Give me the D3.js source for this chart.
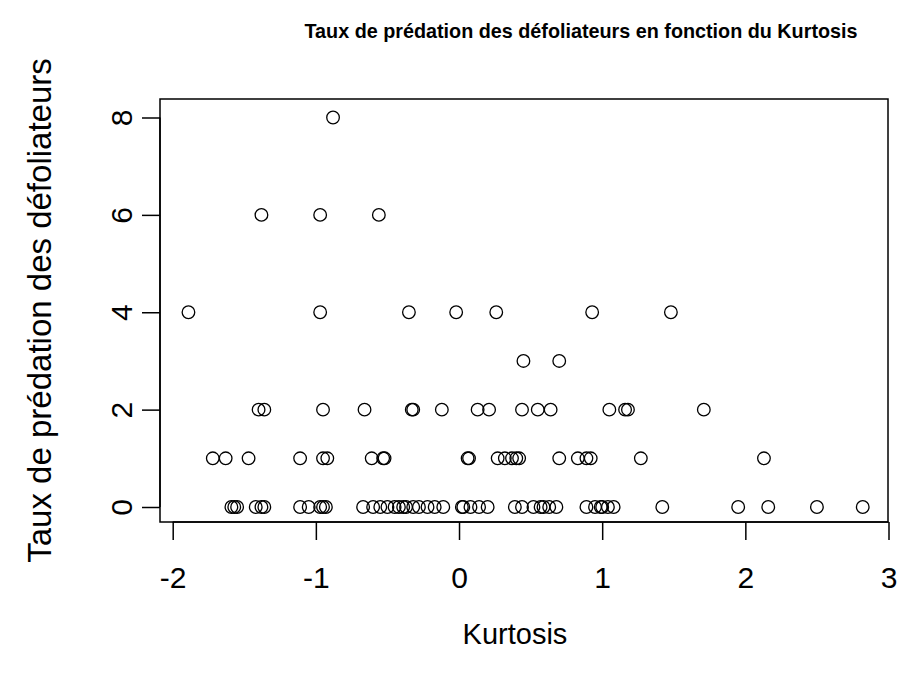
<!DOCTYPE html>
<html>
<head>
<meta charset="utf-8">
<script src="https://cdn.jsdelivr.net/npm/d3@7"></script>
<style>
  html, body { margin: 0; padding: 0; background: #fff; }
  svg { display: block; }
  text { font-family: "Liberation Sans", Arial, sans-serif; fill: #000; }
</style>
</head>
<body>
<svg id="chart" width="898" height="675"></svg>
<script>
// Kurtosis values observed at each predation rate level
const kurtRate0 = [-1.59, -1.57, -1.55, -1.42, -1.38, -1.36, -1.11, -1.05, -0.97, -0.95, -0.93,
  -0.67, -0.60, -0.55, -0.50, -0.45, -0.42, -0.39, -0.37, -0.32, -0.28, -0.22, -0.17, -0.11,
  0.02, 0.03, 0.08, 0.14, 0.20, 0.39, 0.44, 0.52, 0.57, 0.59, 0.63, 0.68, 0.89, 0.95, 0.99,
  1.00, 1.04, 1.08, 1.42, 1.95, 2.16, 2.50, 2.82];
const kurtRate1 = [-1.72, -1.63, -1.47, -1.11, -0.95, -0.92, -0.61, -0.53, -0.52, 0.06, 0.07,
  0.27, 0.32, 0.37, 0.40, 0.42, 0.70, 0.83, 0.89, 0.92, 1.27, 2.13];
const kurtRate2 = [-1.40, -1.36, -0.95, -0.66, -0.33, -0.32, -0.12, 0.13, 0.21, 0.44, 0.55,
  0.64, 1.05, 1.16, 1.18, 1.71];
const kurtRate3 = [0.45, 0.70];
const kurtRate4 = [-1.89, -0.97, -0.35, -0.02, 0.26, 0.93, 1.48];
const kurtRate6 = [-1.38, -0.97, -0.56];
const kurtRate8 = [-0.88];
const rateLevels = [0, 1, 2, 3, 4, 6, 8];
const xTicks = [-2, -1, 0, 1, 2, 3];
const yTicks = [0, 2, 4, 6, 8];
const titleText = "Taux de prédation des défoliateurs en fonction du Kurtosis";
const xLabel = "Kurtosis";
const yLabel = "Taux de prédation des défoliateurs";

const groups = [kurtRate0, kurtRate1, kurtRate2, kurtRate3, kurtRate4, kurtRate6, kurtRate8];
const points = [];
groups.forEach((g, i) => g.forEach(k => points.push({ x: k, y: rateLevels[i] })));

const svg = d3.select("#chart");
const box = { left: 160, right: 888, top: 99, bottom: 522 };

const x = d3.scaleLinear().domain([-2, 3]).range([172.7, 888.5]);
const y = d3.scaleLinear().domain([0, 8]).range([507, 117.5]);

// plot box
svg.append("rect")
  .attr("x", box.left).attr("y", box.top)
  .attr("width", box.right - box.left).attr("height", box.bottom - box.top)
  .attr("fill", "none").attr("stroke", "#000").attr("stroke-width", 1.5);

// x axis
const xAxis = d3.axisBottom(x).tickValues(xTicks).tickSize(18).tickSizeOuter(0)
  .tickFormat(d => d < 0 ? "-" + Math.abs(d) : String(d));
const gx = svg.append("g").attr("transform", `translate(0,${box.bottom})`).call(xAxis);
gx.select(".domain")
  .attr("d", `M${x(-2)},0H${x(3)}`).attr("stroke-width", 1.5);
gx.selectAll(".tick line").attr("stroke-width", 1.5);
gx.selectAll(".tick text")
  .attr("y", 66).attr("dy", null)
  .attr("font-size", 30).attr("font-family", "Liberation Sans, Arial, sans-serif");

// y axis
const yAxis = d3.axisLeft(y).tickValues(yTicks).tickSize(18).tickSizeOuter(0);
const gy = svg.append("g").attr("transform", `translate(${box.left},0)`).call(yAxis);
gy.select(".domain")
  .attr("d", `M0,${y(0)}V${y(8)}`).attr("stroke-width", 1.5);
gy.selectAll(".tick line").attr("stroke-width", 1.5);
gy.selectAll(".tick text")
  .attr("x", null).attr("dy", null)
  .attr("transform", "translate(-28,0) rotate(-90)")
  .attr("text-anchor", "middle")
  .attr("font-size", 30).attr("font-family", "Liberation Sans, Arial, sans-serif");

// points
svg.append("g").selectAll("circle").data(points).join("circle")
  .attr("cx", d => x(d.x)).attr("cy", d => y(d.y)).attr("r", 6.3)
  .attr("fill", "none").attr("stroke", "#000").attr("stroke-width", 1.3);

// title
svg.append("text")
  .attr("x", 581).attr("y", 38)
  .attr("text-anchor", "middle").attr("font-size", 21).attr("font-weight", "bold")
  .attr("textLength", 553).attr("lengthAdjust", "spacingAndGlyphs")
  .text(titleText);

// axis labels
svg.append("text")
  .attr("x", 515).attr("y", 644)
  .attr("text-anchor", "middle").attr("font-size", 29)
  .text(xLabel);

svg.append("text")
  .attr("transform", `translate(51,${(box.top + box.bottom) / 2}) rotate(-90)`)
  .attr("text-anchor", "middle").attr("font-size", 33)
  .text(yLabel);
</script>
</body>
</html>
